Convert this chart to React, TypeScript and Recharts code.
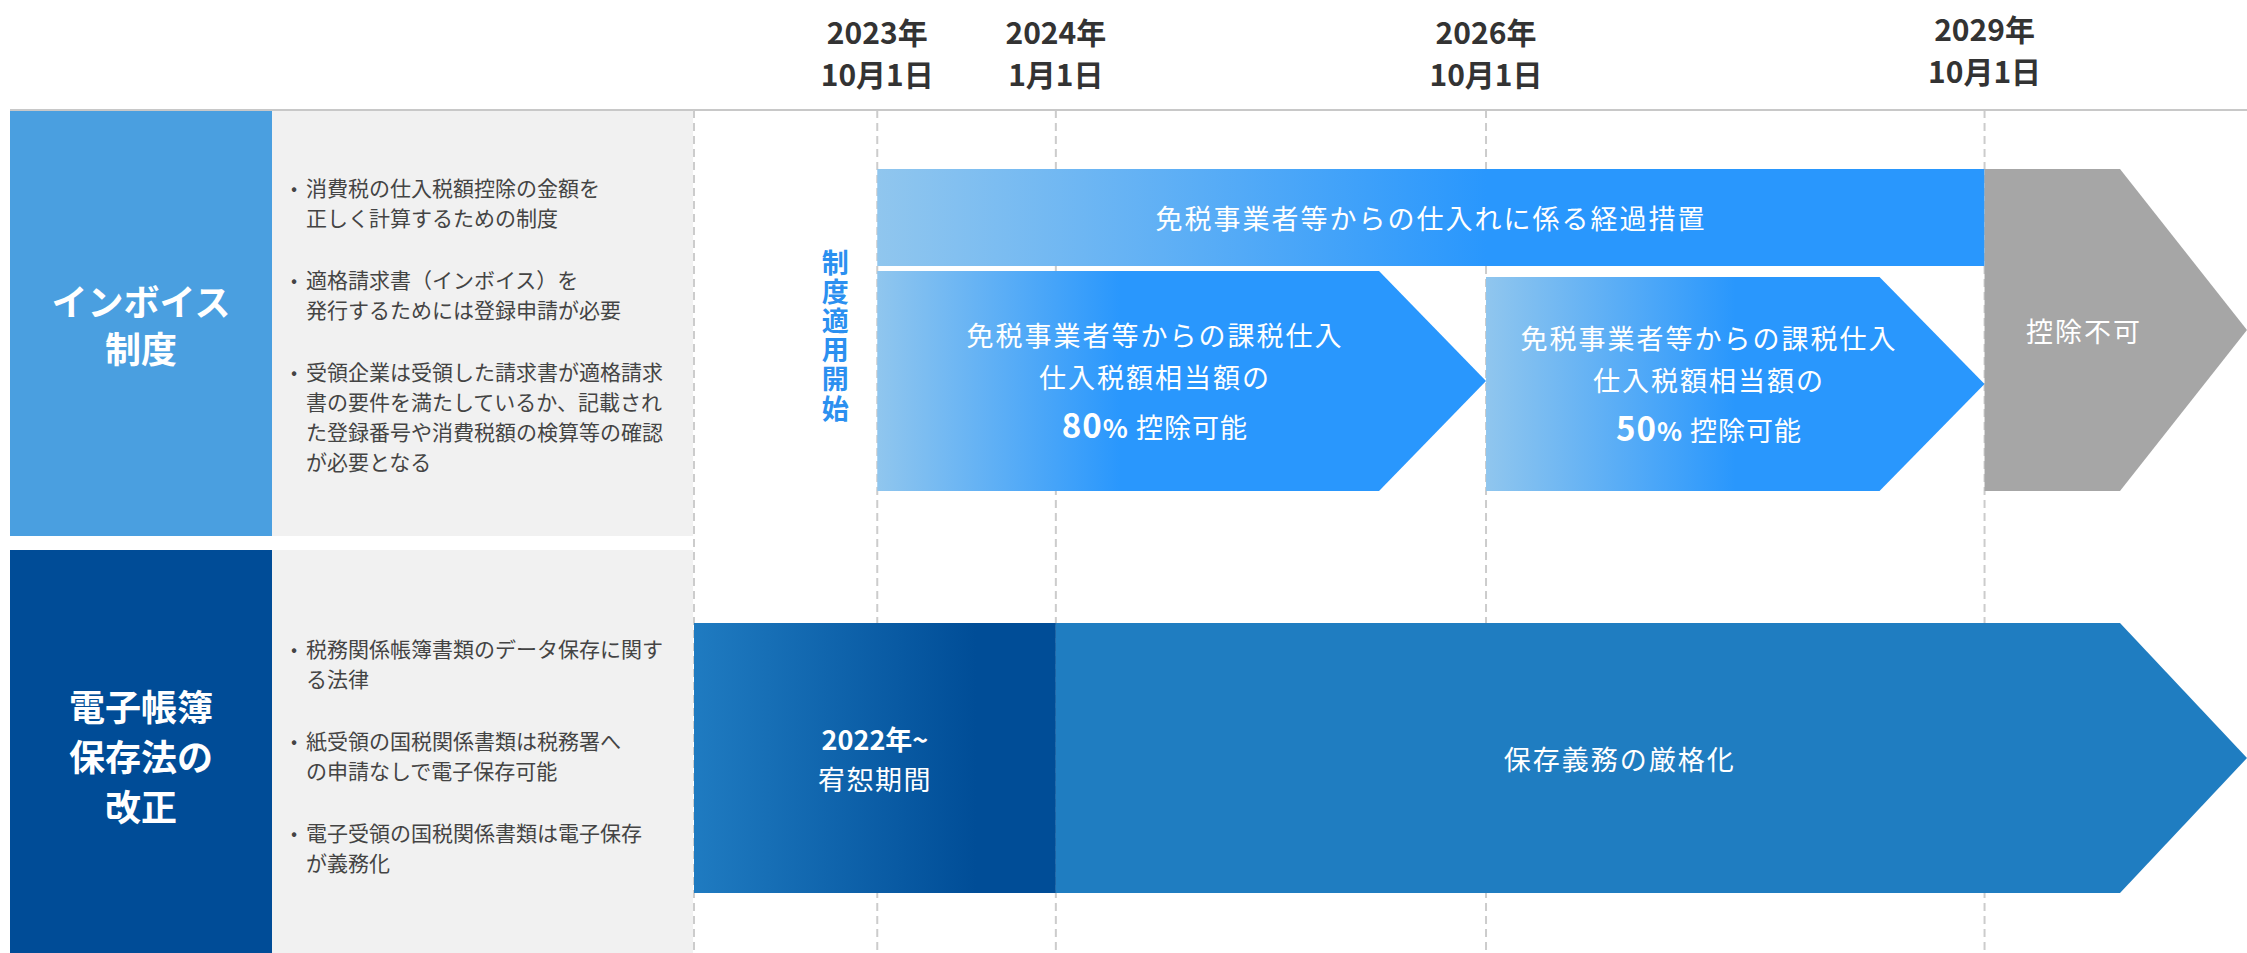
import React from 'react';
import {
  ComposedChart,
  XAxis,
  YAxis,
  CartesianGrid,
  ReferenceArea,
  ReferenceDot,
} from 'recharts';

// timeline track units: 0 = start of the track (2022), 100 = right edge
const milestoneYears = ['2023年', '2024年', '2026年', '2029年'];
const milestoneDays = ['10月1日', '1月1日', '10月1日', '10月1日'];
const milestonePos = [11.8, 23.3, 51.0, 83.1];

const blockIds = ['transition', 'rate80', 'rate50', 'noDeduction', 'grace', 'strict'];
const blockStart = [11.8, 11.8, 51.0, 83.1, 0, 23.3];
const blockEnd = [83.1, 51.0, 83.1, 100, 23.3, 100];
const blockText = [
  ['免税事業者等からの仕入れに係る経過措置'],
  ['免税事業者等からの課税仕入', '仕入税額相当額の'],
  ['免税事業者等からの課税仕入', '仕入税額相当額の'],
  ['控除不可'],
  ['2022年~', '宥恕期間'],
  ['保存義務の厳格化'],
];
const deductionRates = [null, 80, 50, null, null, null];
const startLabel = '制度適用開始';

const invoiceTitle = ['インボイス', '制度'];
const invoiceNotes = [
  ['消費税の仕入税額控除の金額を', '正しく計算するための制度'],
  ['適格請求書（インボイス）を', '発行するためには登録申請が必要'],
  ['受領企業は受領した請求書が適格請求', '書の要件を満たしているか、記載され', 'た登録番号や消費税額の検算等の確認', 'が必要となる'],
];
const ebookTitle = ['電子帳簿', '保存法の', '改正'];
const ebookNotes = [
  ['税務関係帳簿書類のデータ保存に関す', 'る法律'],
  ['紙受領の国税関係書類は税務署へ', 'の申請なしで電子保存可能'],
  ['電子受領の国税関係書類は電子保存', 'が義務化'],
];

// layout
const W = 2247;
const H = 953;
const CHART_LEFT = 690;
const HEADER_H = 110;
const FONT = "'Noto Sans CJK JP', 'Noto Sans', sans-serif";

// lane extents in y units (1 unit = 10px below the header line)
const LANE: Record<string, [number, number]> = {
  transition: [5.9, 15.6],
  rate80: [16.1, 38.1],
  rate50: [16.7, 38.1],
  noDeduction: [5.9, 38.1],
  grace: [51.3, 78.3],
  strict: [51.3, 78.3],
};
const HEAD: Record<string, number> = {
  transition: 0,
  rate80: 107,
  rate50: 105,
  noDeduction: 127,
  grace: 0,
  strict: 127,
};
const FILL: Record<string, string> = {
  transition: 'url(#gTransition)',
  rate80: 'url(#gRate80)',
  rate50: 'url(#gRate50)',
  noDeduction: '#a6a6a6',
  grace: 'url(#gGrace)',
  strict: '#1f7dc1',
};

const boxText = { fill: '#fff', fontSize: 27, letterSpacing: 2 };

function HeaderTick(props: any) {
  const { x, payload } = props;
  const i = milestonePos.indexOf(payload.value);
  if (i < 0) return <g />;
  // the last label sits a little higher in the original
  const dy = i === milestonePos.length - 1 ? -3 : 0;
  return (
    <g fontWeight={700} fontSize={30} fill="#333">
      <text x={x} y={31 + dy} textAnchor="middle" dominantBaseline="central">{milestoneYears[i]}</text>
      <text x={x} y={73 + dy} textAnchor="middle" dominantBaseline="central">{milestoneDays[i]}</text>
    </g>
  );
}

function blockShape(i: number) {
  return (p: any) => {
    const id = blockIds[i];
    const { x, y, width: w, height: h } = p;
    const head = HEAD[id];
    const pts = head
      ? `${x},${y} ${x + w - head},${y} ${x + w},${y + h / 2} ${x + w - head},${y + h} ${x},${y + h}`
      : `${x},${y} ${x + w},${y} ${x + w},${y + h} ${x},${y + h}`;
    const cx = x + (w - head / 2) / 2;
    const cy = y + h / 2;
    const lines = blockText[i];
    const rate = deductionRates[i];
    return (
      <g>
        <polygon points={pts} fill={FILL[id]} />
        {rate != null ? (
          <g {...boxText}>
            <text x={cx} y={cy - 47} textAnchor="middle" dominantBaseline="central">{lines[0]}</text>
            <text x={cx} y={cy - 5} textAnchor="middle" dominantBaseline="central">{lines[1]}</text>
            <text x={cx} y={cy + 57} textAnchor="middle" letterSpacing={1}>
              <tspan fontWeight={700} fontSize={33}>{rate}</tspan>
              <tspan fontWeight={700} fontSize={26}>%</tspan>
              <tspan fontSize={27}> 控除可能</tspan>
            </text>
          </g>
        ) : lines.length === 2 ? (
          <g fill="#fff" fontSize={27}>
            <text x={cx} y={cy - 20} textAnchor="middle" dominantBaseline="central" fontWeight={700}>{lines[0]}</text>
            <text x={cx} y={cy + 20} textAnchor="middle" dominantBaseline="central" letterSpacing={1.5}>{lines[1]}</text>
          </g>
        ) : (
          <text x={cx} y={cy} textAnchor="middle" dominantBaseline="central" {...boxText}>{lines[0]}</text>
        )}
      </g>
    );
  };
}

function VerticalLabel({ cx, cy }: { cx: number; cy: number }) {
  return (
    <text
      x={cx - 42}
      y={cy}
      textAnchor="middle"
      fill="#2b90f0"
      fontSize={27}
      fontWeight={700}
      letterSpacing={2.2}
      style={{ writingMode: 'vertical-rl' } as any}
    >
      {startLabel}
    </text>
  );
}

function Section({ top, height, color, title, notes, titleLine }: any) {
  return (
    <div style={{ position: 'absolute', left: 10, top, width: 683, height, display: 'flex' }}>
      <div
        style={{
          width: 262,
          background: color,
          color: '#fff',
          fontWeight: 700,
          fontSize: 36,
          lineHeight: `${titleLine}px`,
          display: 'flex',
          flexDirection: 'column',
          alignItems: 'center',
          justifyContent: 'center',
          whiteSpace: 'nowrap',
        }}
      >
        {title.map((t: string) => <div key={t}>{t}</div>)}
      </div>
      <div
        style={{
          flex: 1,
          background: '#f1f1f1',
          display: 'flex',
          flexDirection: 'column',
          justifyContent: 'center',
          paddingLeft: 19,
          color: '#444',
          fontSize: 21,
          lineHeight: '30px',
          whiteSpace: 'nowrap',
        }}
      >
        {notes.map((lines: string[], k: number) => (
          <div key={k} style={{ display: 'flex', marginTop: k ? 32 : 0 }}>
            <span style={{ width: 15, fontSize: 18 }}>•</span>
            <div>{lines.map((l) => <div key={l}>{l}</div>)}</div>
          </div>
        ))}
      </div>
    </div>
  );
}

export default function App() {
  return (
    <div style={{ position: 'absolute', left: 0, top: 0, width: W, height: H, overflow: 'hidden', background: '#fff', fontFamily: FONT }}>
      <div style={{ position: 'absolute', left: 10, top: 109, width: CHART_LEFT - 6, height: 2, background: '#c8c8c8' }} />
      <Section top={111} height={425} color="#4a9fe0" title={invoiceTitle} notes={invoiceNotes} titleLine={47} />
      <Section top={550} height={410} color="#004c97" title={ebookTitle} notes={ebookNotes} titleLine={50} />
      <div style={{ position: 'absolute', left: CHART_LEFT, top: 0 }}>
        <ComposedChart
          width={W - CHART_LEFT}
          height={H}
          data={milestonePos.map((pos) => ({ pos }))}
          margin={{ top: 0, right: 0, bottom: 0, left: 4 }}
        >
          <defs>
            <linearGradient id="gTransition" x1="0" y1="0" x2="1" y2="0">
              <stop offset="0" stopColor="#90c6ee" />
              <stop offset="0.55" stopColor="#2997fd" />
              <stop offset="1" stopColor="#2997fd" />
            </linearGradient>
            <linearGradient id="gRate80" x1="0" y1="0" x2="1" y2="0">
              <stop offset="0" stopColor="#90c6ee" />
              <stop offset="0.4" stopColor="#2997fd" />
              <stop offset="1" stopColor="#2997fd" />
            </linearGradient>
            <linearGradient id="gRate50" x1="0" y1="0" x2="1" y2="0">
              <stop offset="0" stopColor="#90c6ee" />
              <stop offset="0.5" stopColor="#2997fd" />
              <stop offset="1" stopColor="#2997fd" />
            </linearGradient>
            <linearGradient id="gGrace" x1="0" y1="0" x2="1" y2="0">
              <stop offset="0" stopColor="#1f7bc1" />
              <stop offset="0.78" stopColor="#004d97" />
              <stop offset="1" stopColor="#004d97" />
            </linearGradient>
          </defs>
          <CartesianGrid horizontal={false} stroke="#cccccc" strokeWidth={2} strokeDasharray="8 5" syncWithTicks />
          <XAxis
            type="number"
            dataKey="pos"
            orientation="top"
            domain={[0, 100]}
            allowDataOverflow
            height={HEADER_H}
            ticks={[0, ...milestonePos]}
            interval={0}
            tick={(p: any) => <HeaderTick {...p} />}
            tickLine={false}
            axisLine={{ stroke: '#c8c8c8', strokeWidth: 2 }}
          />
          <YAxis type="number" domain={[0, (H - HEADER_H) / 10]} allowDataOverflow reversed hide />
          {blockIds.map((id, i) => (
            <ReferenceArea
              key={id}
              x1={blockStart[i]}
              x2={blockEnd[i]}
              y1={LANE[id][0]}
              y2={LANE[id][1]}
              shape={blockShape(i)}
            />
          ))}
          <ReferenceDot
            x={milestonePos[0]}
            y={22.65}
            r={0}
            shape={(p: any) => <VerticalLabel cx={p.cx} cy={p.cy} />}
          />
        </ComposedChart>
      </div>
    </div>
  );
}
